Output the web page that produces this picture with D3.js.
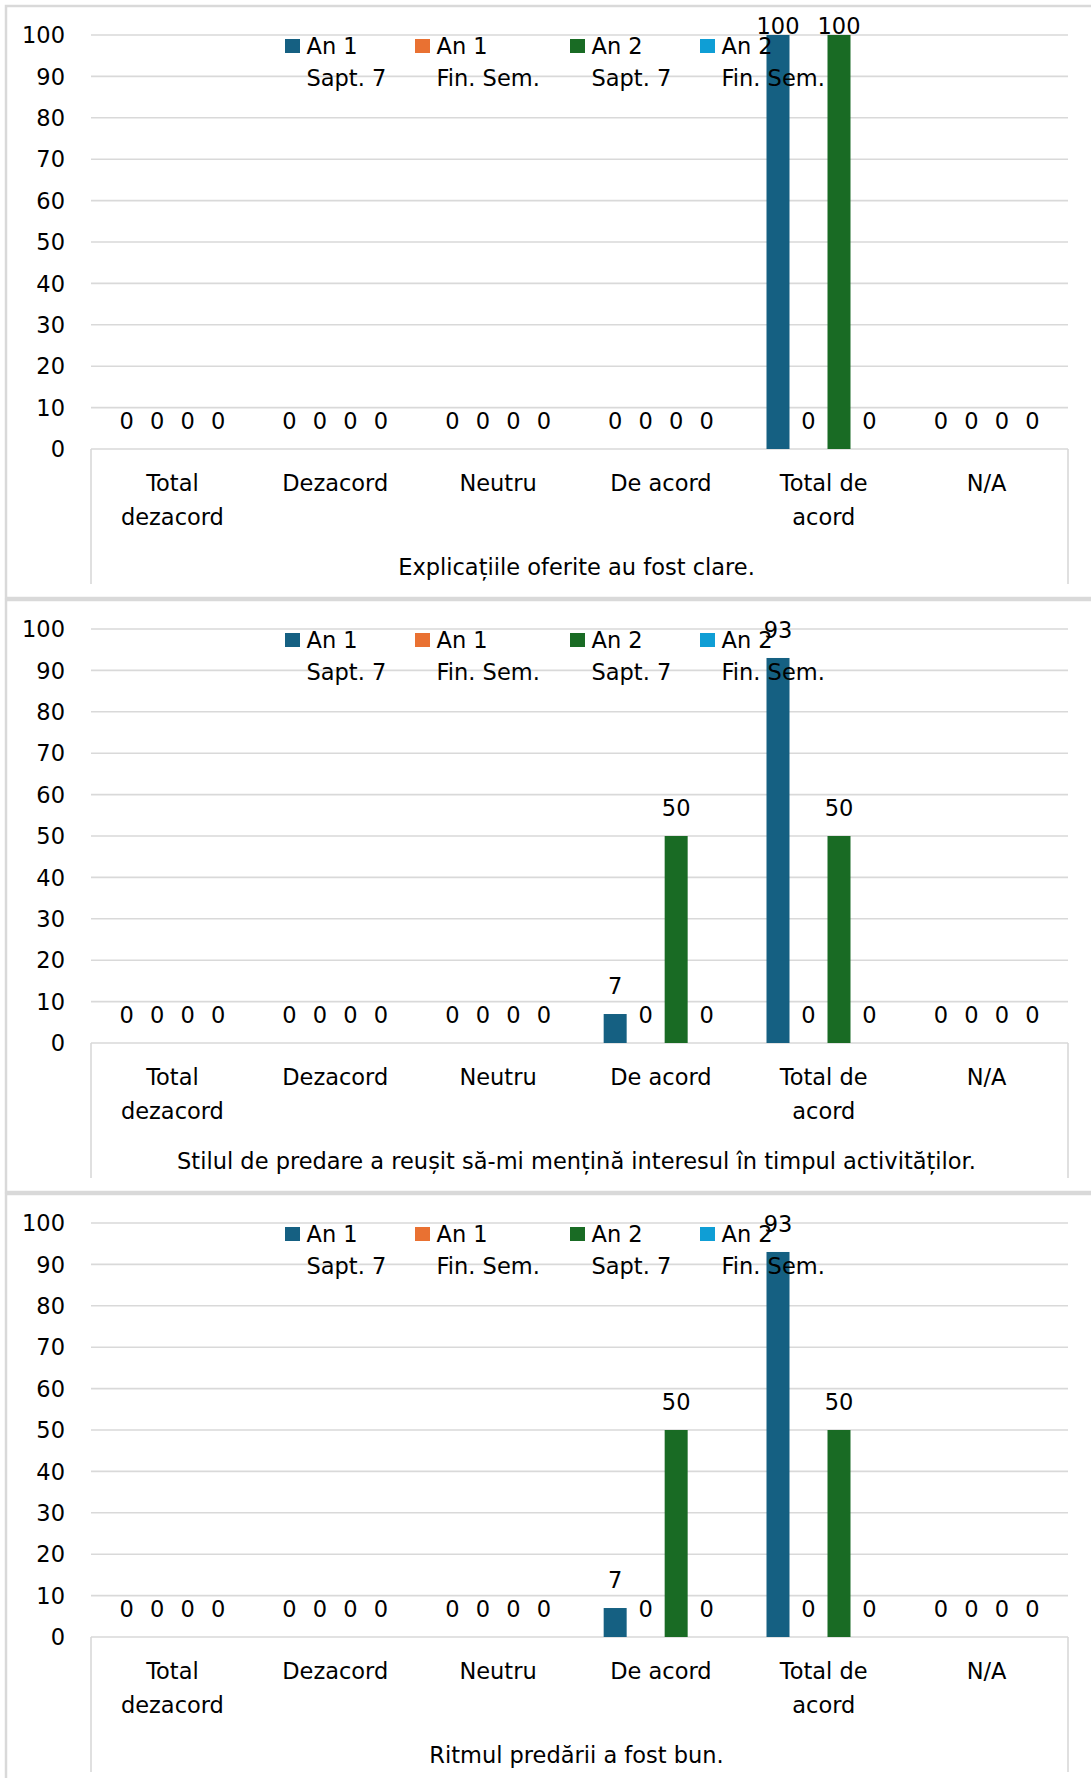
<!DOCTYPE html>
<html>
<head>
<meta charset="utf-8">
<script src="https://cdn.jsdelivr.net/npm/d3@7"></script>
<style>
  html, body { margin: 0; padding: 0; background: #ffffff; }
  svg text { font-family: "DejaVu Sans", sans-serif; fill: #000000; }
</style>
</head>
<body>
<svg id="chart" width="1091" height="1778"></svg>
<script>
// ---------- data ----------
const categories = ["Total dezacord", "Dezacord", "Neutru", "De acord", "Total de acord", "N/A"];
const categoryLines = [["Total", "dezacord"], ["Dezacord"], ["Neutru"], ["De acord"], ["Total de", "acord"], ["N/A"]];
const seriesNames = ["An 1 Sapt. 7", "An 1 Fin. Sem.", "An 2 Sapt. 7", "An 2 Fin. Sem."];
const seriesLines = [["An 1", "Sapt. 7"], ["An 1", "Fin. Sem."], ["An 2", "Sapt. 7"], ["An 2", "Fin. Sem."]];
const seriesColors = ["#156082", "#E97132", "#196B24", "#0F9ED5"];
const yTicks = [0, 10, 20, 30, 40, 50, 60, 70, 80, 90, 100];

const questionTitles = [
  "Explicațiile oferite au fost clare.",
  "Stilul de predare a reușit să-mi mențină interesul în timpul activităților.",
  "Ritmul predării a fost bun."
];

// values per series, in category order
const q1_an1_sapt7  = [0, 0, 0, 0, 100, 0];
const q1_an1_finsem = [0, 0, 0, 0, 0, 0];
const q1_an2_sapt7  = [0, 0, 0, 0, 100, 0];
const q1_an2_finsem = [0, 0, 0, 0, 0, 0];

const q2_an1_sapt7  = [0, 0, 0, 7, 93, 0];
const q2_an1_finsem = [0, 0, 0, 0, 0, 0];
const q2_an2_sapt7  = [0, 0, 0, 50, 50, 0];
const q2_an2_finsem = [0, 0, 0, 0, 0, 0];

const q3_an1_sapt7  = [0, 0, 0, 7, 93, 0];
const q3_an1_finsem = [0, 0, 0, 0, 0, 0];
const q3_an2_sapt7  = [0, 0, 0, 50, 50, 0];
const q3_an2_finsem = [0, 0, 0, 0, 0, 0];

const panels = [
  { title: questionTitles[0], series: [q1_an1_sapt7, q1_an1_finsem, q1_an2_sapt7, q1_an2_finsem] },
  { title: questionTitles[1], series: [q2_an1_sapt7, q2_an1_finsem, q2_an2_sapt7, q2_an2_finsem] },
  { title: questionTitles[2], series: [q3_an1_sapt7, q3_an1_finsem, q3_an2_sapt7, q3_an2_finsem] }
];

// ---------- layout ----------
const panelPitch = 594;
const plotLeft = 91, plotRight = 1068;
const plotTop = 35, plotBottom = 449;
const FS = 22.5;
const gridColor = "#d9d9d9";

const svg = d3.select("#chart");
svg.append("rect").attr("width", 1091).attr("height", 1778).attr("fill", "#ffffff");

const x0 = d3.scaleBand().domain(categories).range([plotLeft, plotRight]).padding(0);
const groupW = 122;
const y = d3.scaleLinear().domain([0, 100]).range([plotBottom, plotTop]);

panels.forEach((p, pi) => {
  const g = svg.append("g").attr("transform", `translate(0,${pi * panelPitch})`);

  // outer chart border
  g.append("rect")
    .attr("x", 6).attr("y", 6).attr("width", 1200).attr("height", 592)
    .attr("fill", "none").attr("stroke", gridColor).attr("stroke-width", 2.5);

  // gridlines
  g.selectAll(".grid").data(yTicks.filter(t => t > 0)).join("line")
    .attr("x1", plotLeft).attr("x2", plotRight)
    .attr("y1", d => y(d)).attr("y2", d => y(d))
    .attr("stroke", gridColor).attr("stroke-width", 1.6);

  // category axis box (multi-level)
  g.append("line").attr("x1", plotLeft).attr("x2", plotRight)
    .attr("y1", y(0)).attr("y2", y(0)).attr("stroke", gridColor).attr("stroke-width", 1.6);
  [plotLeft, plotRight].forEach(xx => {
    g.append("line").attr("x1", xx).attr("x2", xx)
      .attr("y1", y(0)).attr("y2", 584).attr("stroke", gridColor).attr("stroke-width", 1.6);
  });

  // y tick labels
  g.selectAll(".ytick").data(yTicks).join("text")
    .attr("x", 65).attr("y", d => y(d)).attr("dy", "0.36em")
    .attr("text-anchor", "end").attr("font-size", FS)
    .text(d => d);

  // bars + labels
  categories.forEach((c, ci) => {
    const cx = x0(c) + x0.bandwidth() / 2;
    const x1 = d3.scaleBand().domain(seriesNames)
      .range([cx - groupW / 2, cx + groupW / 2])
      .paddingInner(0.246).paddingOuter(0.123);
    seriesNames.forEach((s, si) => {
      const v = p.series[si][ci];
      const bx = x1(s);
      const bw = x1.bandwidth();
      if (v > 0) {
        g.append("rect")
          .attr("x", bx).attr("y", y(v))
          .attr("width", bw).attr("height", y(0) - y(v))
          .attr("fill", seriesColors[si]);
      }
      g.append("text")
        .attr("x", bx + bw / 2)
        .attr("y", Math.max(y(v) - 28, 26))
        .attr("dy", "0.36em")
        .attr("text-anchor", "middle").attr("font-size", FS)
        .text(v);
    });

    // category labels
    categoryLines[ci].forEach((ln, li) => {
      g.append("text")
        .attr("x", cx).attr("y", 491 + li * 34)
        .attr("text-anchor", "middle").attr("font-size", FS)
        .text(ln);
    });
  });

  // second-level category (question)
  g.append("text")
    .attr("x", (plotLeft + plotRight) / 2 - 3).attr("y", 575)
    .attr("text-anchor", "middle").attr("font-size", FS)
    .text(p.title);

  // legend
  const legendX = [285, 415, 570, 700];
  seriesNames.forEach((s, si) => {
    g.append("rect")
      .attr("x", legendX[si]).attr("y", 39)
      .attr("width", 15).attr("height", 14)
      .attr("fill", seriesColors[si]);
    seriesLines[si].forEach((ln, li) => {
      g.append("text")
        .attr("x", legendX[si] + 21.5).attr("y", 53.5 + li * 32)
        .attr("font-size", FS)
        .text(ln);
    });
  });
});
</script>
</body>
</html>
